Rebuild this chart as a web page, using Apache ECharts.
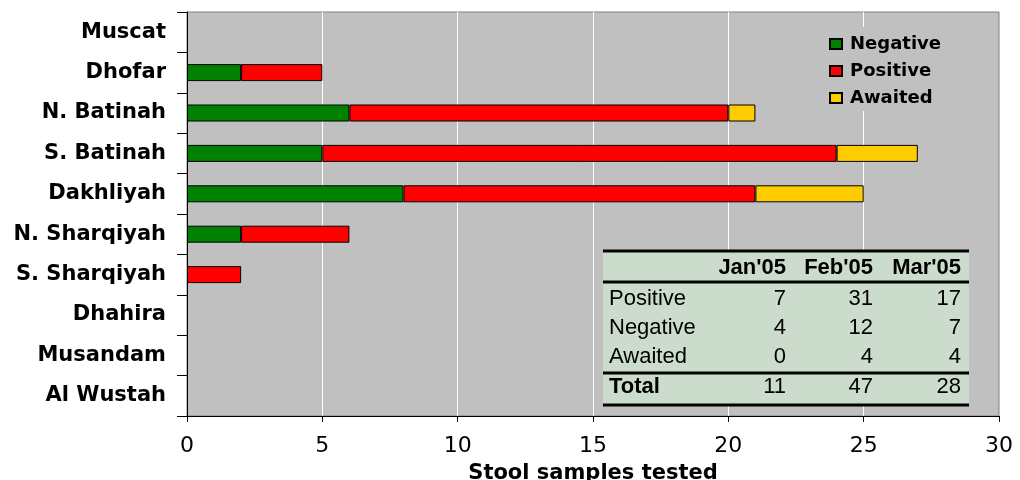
<!DOCTYPE html>
<html>
<head>
<meta charset="utf-8">
<script src="https://cdn.jsdelivr.net/npm/echarts@6/dist/echarts.min.js"></script>
<style>html,body{margin:0;padding:0;background:#fff;}#c{width:1020px;height:480px;}</style>
</head>
<body>
<div id="c"></div>
<script>
var regions = ['Muscat','Dhofar','N. Batinah','S. Batinah','Dakhliyah','N. Sharqiyah','S. Sharqiyah','Dhahira','Musandam','Al Wustah'];
var negative = [0, 2, 6, 5, 8, 2, 0, 0, 0, 0];
var positive = [0, 3, 14, 19, 13, 4, 2, 0, 0, 0];
var awaited  = [0, 0, 1, 3, 4, 0, 0, 0, 0, 0];

var tableMonths   = ["Jan'05", "Feb'05", "Mar'05"];
var tablePositive = [7, 31, 17];
var tableNegative = [4, 12, 7];
var tableAwaited  = [0, 4, 4];
var tableTotal    = [11, 47, 28];

var chart = echarts.init(document.getElementById('c'));

// table graphic
var tX = 603, tY = 251, tW = 366, tH = 154;
var colRight = [786, 873, 961];
var rowY = [268, 299, 328, 357, 387];
var tableFont = 'Liberation Sans, Arial, sans-serif';
var g = [];
g.push({type:'rect', z:100, shape:{x:tX, y:tY, width:tW, height:tH}, style:{fill:'#ccdccc'}});
[251, 282, 373, 405].forEach(function(y){
  g.push({type:'line', z:101, shape:{x1:tX, y1:y, x2:tX+tW, y2:y}, style:{stroke:'#000', lineWidth:3}});
});
function txt(s, x, y, align, bold){
  g.push({type:'text', z:102, x:x, y:y, style:{text:String(s), fill:'#000', fontSize:22, fontWeight:bold?'bold':'normal', fontFamily:tableFont, align:align, verticalAlign:'middle'}});
}
tableMonths.forEach(function(m,i){ txt(m, colRight[i], rowY[0], 'right', true); });
var rows = [['Positive', tablePositive, false], ['Negative', tableNegative, false], ['Awaited', tableAwaited, false], ['Total', tableTotal, true]];
rows.forEach(function(r, ri){
  txt(r[0], 609, rowY[ri+1], 'left', r[2]);
  r[1].forEach(function(v, ci){ txt(v, colRight[ci], rowY[ri+1], 'right', false); });
});

var barStyle = function(c){ return {color:c, borderColor:'#000', borderWidth:1}; };
var noZero = function(arr){ return arr.map(function(v){ return v === 0 ? '-' : v; }); };

chart.setOption({
  animation: false,
  grid: {left:187, right:21, top:12, bottom:64, outerBoundsMode:'none', containLabel:false, show:true, backgroundColor:'#c0c0c0', borderColor:'#808080', borderWidth:1},
  legend: {
    orient:'vertical', left:818, top:27, padding:[8, 30, 4, 11],
    backgroundColor:'#c0c0c0',
    itemWidth:12, itemHeight:10, itemGap:9, icon:'rect',
    data:['Negative','Positive','Awaited'],
    textStyle:{fontFamily:'DejaVu Sans', fontWeight:'bold', fontSize:18, color:'#000', lineHeight:18, padding:[0,0,0,3]}
  },
  xAxis: {
    type:'value', min:0, max:30, interval:5,
    axisLine:{show:true, lineStyle:{color:'#000', width:1}},
    axisTick:{show:true, length:6, lineStyle:{color:'#000'}},
    axisLabel:{fontFamily:'DejaVu Sans', fontSize:22, color:'#000', margin:19},
    splitLine:{show:true, showMinLine:false, showMaxLine:false, lineStyle:{color:'#ffffff', width:1}},
    name:'Stool samples tested', nameLocation:'middle', nameGap:47,
    nameTextStyle:{fontFamily:'DejaVu Sans', fontWeight:'bold', fontSize:21, color:'#000'}
  },
  yAxis: {
    type:'category', inverse:true, data:regions,
    axisLine:{show:true, lineStyle:{color:'#000', width:1}},
    axisTick:{show:true, length:10, lineStyle:{color:'#000'}},
    axisLabel:{fontFamily:'DejaVu Sans', fontWeight:'bold', fontSize:21, color:'#000', margin:21},
    splitLine:{show:false}
  },
  series: [
    {name:'Negative', type:'bar', stack:'s', barWidth:17, data:noZero(negative), itemStyle:barStyle('#008000')},
    {name:'Positive', type:'bar', stack:'s', barWidth:17, data:noZero(positive), itemStyle:barStyle('#ff0000')},
    {name:'Awaited',  type:'bar', stack:'s', barWidth:17, data:noZero(awaited),  itemStyle:barStyle('#ffcc00')}
  ],
  graphic: g
});
</script>
</body>
</html>
